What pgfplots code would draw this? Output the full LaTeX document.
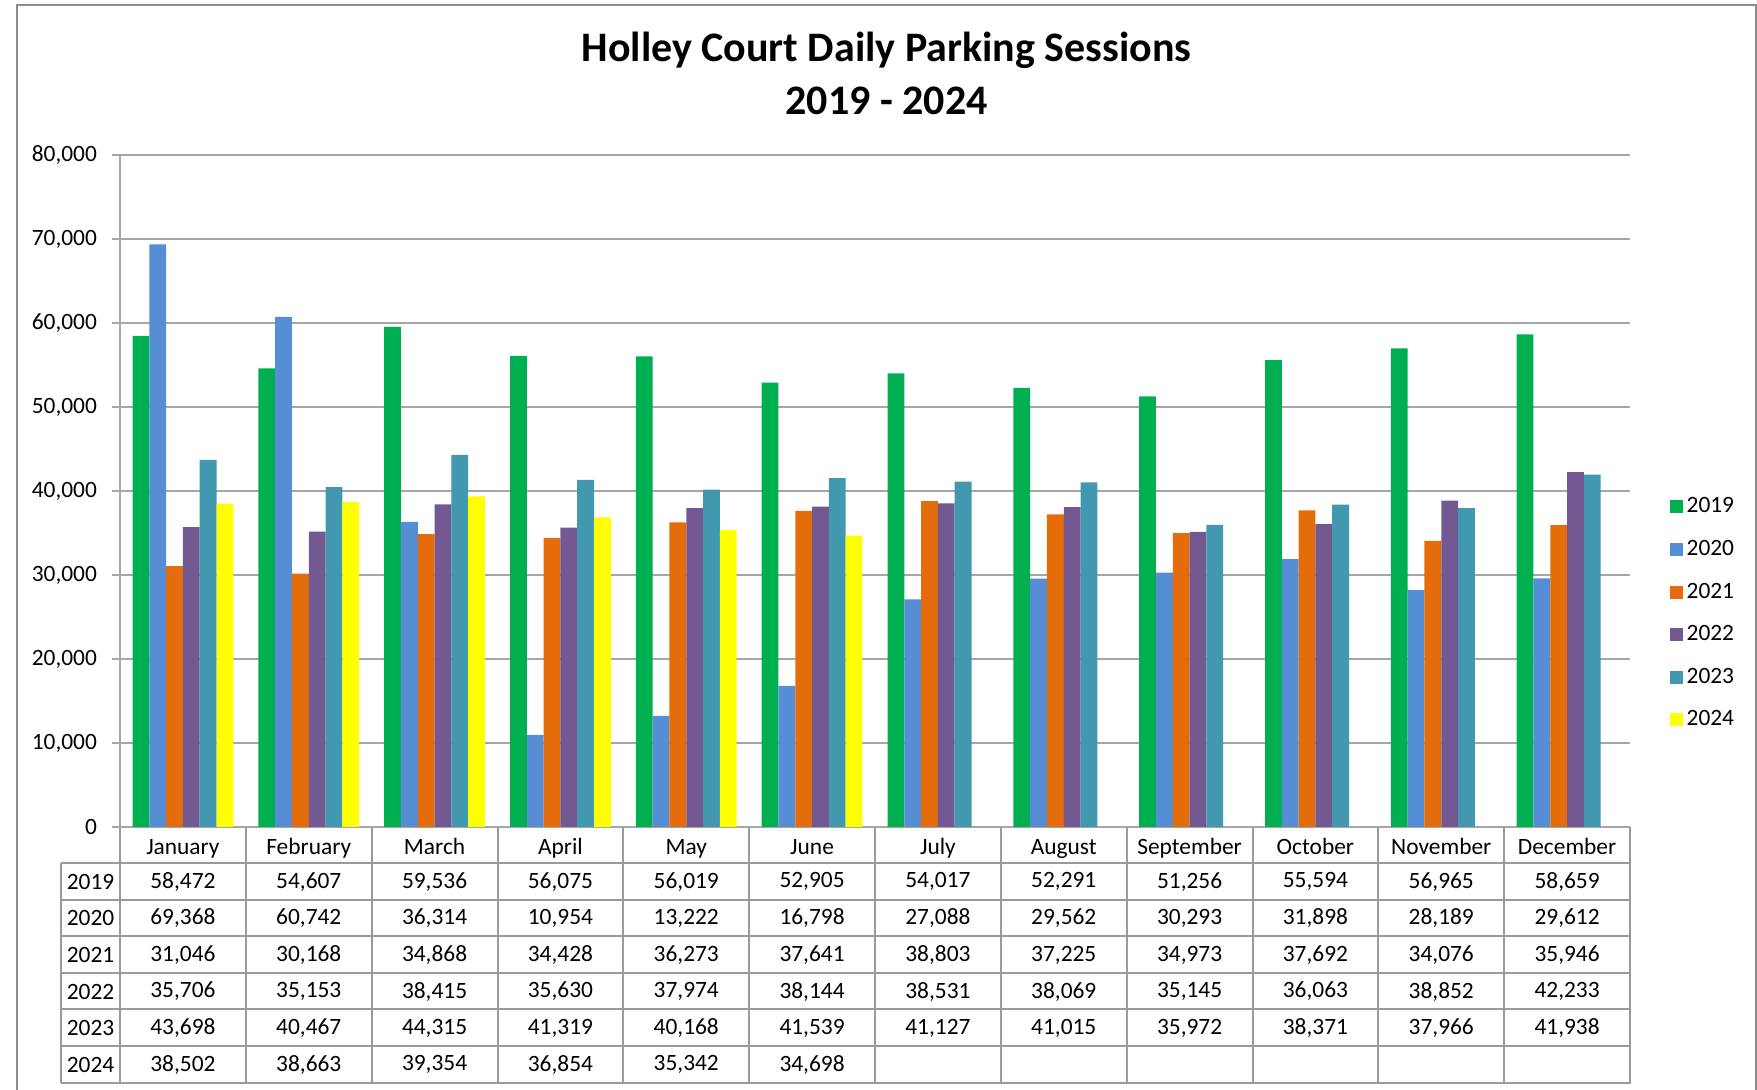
\documentclass[border=0pt]{standalone}
\usepackage{pgfplots}
\pgfplotsset{compat=1.18}
\usepackage{pgfplotstable}
\usepackage{fontspec}
\setmainfont{Carlito}
\definecolor{c19}{HTML}{00B050}
\definecolor{c20}{HTML}{558ED5}
\definecolor{c21}{HTML}{E46C0A}
\definecolor{c22}{HTML}{725991}
\definecolor{c23}{HTML}{4198AF}
\definecolor{c24}{HTML}{FFFF00}
\definecolor{gridc}{HTML}{A6A6A6}
\definecolor{tblc}{HTML}{9A9A9A}
\definecolor{bordc}{HTML}{8C8C8C}

\pgfplotstableread{
x y2019 y2020 y2021 y2022 y2023 y2024
0 58472 69368 31046 35706 43698 38502
1 54607 60742 30168 35153 40467 38663
2 59536 36314 34868 38415 44315 39354
3 56075 10954 34428 35630 41319 36854
4 56019 13222 36273 37974 40168 35342
5 52905 16798 37641 38144 41539 34698
6 54017 27088 38803 38531 41127 nan
7 52291 29562 37225 38069 41015 nan
8 51256 30293 34973 35145 35972 nan
9 55594 31898 37692 36063 38371 nan
10 56965 28189 34076 38852 37966 nan
11 58659 29612 35946 42233 41938 nan
}\data

\newcommand\fs{\fontsize{11.7}{14}\selectfont}

\def\rA{{58,472},{54,607},{59,536},{56,075},{56,019},{52,905},{54,017},{52,291},{51,256},{55,594},{56,965},{58,659}}
\def\rB{{69,368},{60,742},{36,314},{10,954},{13,222},{16,798},{27,088},{29,562},{30,293},{31,898},{28,189},{29,612}}
\def\rC{{31,046},{30,168},{34,868},{34,428},{36,273},{37,641},{38,803},{37,225},{34,973},{37,692},{34,076},{35,946}}
\def\rD{{35,706},{35,153},{38,415},{35,630},{37,974},{38,144},{38,531},{38,069},{35,145},{36,063},{38,852},{42,233}}
\def\rE{{43,698},{40,467},{44,315},{41,319},{40,168},{41,539},{41,127},{41,015},{35,972},{38,371},{37,966},{41,938}}
\def\rF{{38,502},{38,663},{39,354},{36,854},{35,342},{34,698}}

\newcommand\rowvals[2]{%
  \foreach \v [count=\j from 0] in #2
    \node[font=\fs] at ({120+125.833*(\j+0.5)},{881.8+36.58*#1}) {\v};%
}

\begin{document}
\begin{tikzpicture}
\begin{axis}[
  at={(60pt,-413.5pt)}, anchor=south west,
  scale only axis, width=755pt, height=336pt,
  ybar=0pt, bar width=8.4pt,
  xmin=-0.5, xmax=11.5, ymin=0, ymax=80000,
  axis x line=bottom, axis y line=left,
  axis line style={-, gridc, line width=1pt},
  ytick={0,10000,...,80000},
  ymajorgrids, major grid style={gridc, line width=1pt},
  scaled y ticks=false,
  yticklabel style={/pgf/number format/fixed, /pgf/number format/1000 sep={,}, /pgf/number format/assume math mode=true, xshift=-4pt},
  xtick={0,...,11},
  xticklabels={January,February,March,April,May,June,July,August,September,October,November,December},
  xticklabel style={anchor=base, yshift=-9.7pt},
  x tick style={draw=none},
  y tick style={gridc, line width=1pt},
  tick align=outside, major tick length=4pt,
  tick label style={font=\fs},
  legend style={at={(1.022,0.318)}, anchor=west, draw=none, fill=none, font=\fs, row sep=8.2pt,
    /tikz/every even column/.append style={column sep=2pt}},
  legend cell align=left,
  sq/.style={fill=#1, draw=none, legend image code/.code={\fill[#1] (0pt,-3.25pt) rectangle (6.5pt,3.25pt);}},
]
\addplot[sq=c19] table[x=x, y=y2019] {\data};
\addplot[sq=c20] table[x=x, y=y2020] {\data};
\addplot[sq=c21] table[x=x, y=y2021] {\data};
\addplot[sq=c22] table[x=x, y=y2022] {\data};
\addplot[sq=c23] table[x=x, y=y2023] {\data};
\addplot[sq=c24] table[x=x, y=y2024] {\data};
\legend{2019,2020,2021,2022,2023,2024}
\end{axis}
\begin{scope}[x=0.5pt,y=-0.5pt]
\path[use as bounding box] (0,0) rectangle (1757,1090);
\draw[bordc, line width=0.75pt] (17,1092) -- (17,5) -- (1756,5) -- (1756,1092);
\node[font=\fontsize{21}{25}\selectfont\bfseries] at (886.5,50) {Holley Court Daily Parking Sessions};
\node[font=\fontsize{21}{25}\selectfont\bfseries] at (886.5,101) {2019 - 2024};
\begin{scope}[tblc, line width=1pt]
\draw (120,827) -- (120,1082.5);
\draw (61,863) -- (61,1082.5);
\foreach \k in {1,...,12} \draw ({120+125.833*\k},827) -- ({120+125.833*\k},1082.5);
\foreach \yy in {863,899.6,936.2,972.8,1009.3,1045.9,1082.5} \draw (61,\yy) -- (1630.5,\yy);
\end{scope}
\foreach \yr [count=\i from 0] in {2019,2020,2021,2022,2023,2024}
  \node[font=\fs] at (90.5,{881.8+36.58*\i}) {\yr};
\rowvals{0}{\rA}
\rowvals{1}{\rB}
\rowvals{2}{\rC}
\rowvals{3}{\rD}
\rowvals{4}{\rE}
\rowvals{5}{\rF}
\end{scope}
\end{tikzpicture}
\end{document}
